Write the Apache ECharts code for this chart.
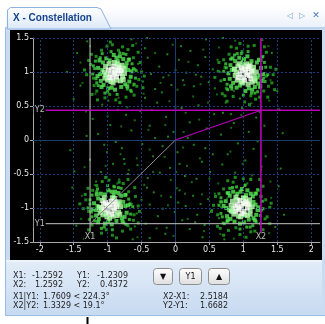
<!DOCTYPE html>
<html>
<head>
<meta charset="utf-8">
<script src="https://cdn.jsdelivr.net/npm/echarts@6/dist/echarts.min.js"></script>
<style>
html,body{margin:0;padding:0;background:#fff;}
#chart{width:325px;height:324px;}
</style>
</head>
<body>
<div id="chart"></div>
<script>
// Axis ticks
const xTicks = [-2, -1.5, -1, -0.5, 0, 0.5, 1, 1.5, 2];
const yTicks = [-1.5, -1, -0.5, 0, 0.5, 1, 1.5];

// Cursor positions: [X1, X2] and [Y1, Y2]
const cursorX = [-1.2592, 1.2592];
const cursorY = [-1.2309, 0.4372];

// Readout panel text
const readLeft = [
  ['X1:', '-1.2592', 'Y1:', '-1.2309'],
  ['X2:', '1.2592', 'Y2:', '0.4372']
];
const readPolar = [
  ['X1|Y1:', '1.7609 < 224.3°', 'X2-X1:', '2.5184'],
  ['X2|Y2:', '1.3329 < 19.1°', 'Y2-Y1:', '1.6682']
];

// Received symbols (I, Q) in hundredths, flat x,y pairs, grouped by density level
const coreWhite = [
  -90,99, -85,102, -94,104, -96,97, -87,93, -82,98, -91,108, -99,103, -88,103, -93,91, -83,106, -97,92, -80,102, -89,97,
  104,99, 98,102, 109,95, 100,92, 107,105, 95,97, 112,101, 102,88, 106,96, 97,106, 111,90, 93,92, 103,104, 108,108,
  -97,-99, -92,-94, -101,-96, -91,-104, -99,-106, -87,-98, -105,-102, -95,-90, -94,-109, -103,-92, -89,-91, -106,-94, -90,-100, -98,-95,
  97,-97, 93,-102, 102,-94, 91,-95, 101,-105, 106,-100, 88,-97, 95,-89, 98,-108, 104,-91, 89,-105, 107,-94, 94,-100, 100,-93
];
const corePale = [
  -78,93, -102,96, -86,112, -95,86, -76,105, -103,108, -81,87, -100,88, -84,109, -75,98, -105,100, -90,114, -92,84, -79,110, -98,112, -77,89, -104,91, -87,88,
  116,94, 90,100, 105,112, 99,84, 115,107, 92,109, 113,85, 91,88, 119,100, 88,95, 110,110, 97,86, 117,87, 94,112, 87,104, 107,82, 114,102, 101,109,
  -84,-106, -109,-100, -93,-85, -101,-113, -83,-91, -108,-89, -86,-111, -107,-110, -81,-98, -112,-99, -90,-86, -97,-115, -82,-109, -105,-85, -111,-107, -92,-112, -85,-94, -102,-108,
  110,-103, 85,-101, 100,-85, 93,-112, 109,-88, 84,-90, 106,-111, 86,-109, 113,-98, 82,-96, 103,-86, 96,-113, 110,-109, 89,-84, 82,-104, 102,-110, 109,-95, 91,-88
];
const midGreen = [
  -70,103, -111,97, -87,121, -94,77, -72,113, -107,114, -74,82, -106,81, -66,93, -114,106, -82,123, -99,76, -68,86, -110,87, -77,119, -102,120, -65,101, -115,94, -89,74, -91,125, -71,79, -112,117, -73,108, -108,103, -80,78, -97,117, -69,118, -109,78, -85,116, -104,95,
  124,95, 83,103, 101,119, 108,76, 120,114, 85,84, 122,83, 88,116, 126,106, 80,90, 94,121, 113,74, 127,87, 81,110, 117,78, 90,77, 129,97, 78,98, 103,72, 106,123, 123,118, 82,79, 86,105, 121,92, 95,80, 112,116, 84,120, 125,79, 99,115, 118,89,
  -74,-97, -117,-103, -94,-76, -99,-120, -80,-82, -114,-86, -79,-115, -113,-116, -72,-107, -120,-93, -89,-76, -104,-123, -75,-113, -117,-111, -84,-78, -110,-79, -70,-96, -122,-102, -94,-124, -99,-74, -78,-120, -116,-80, -77,-91, -115,-97, -87,-119, -104,-80, -74,-81, -114,-121, -91,-81, -109,-104,
  118,-95, 75,-100, 96,-76, 101,-121, 114,-83, 80,-82, 115,-115, 81,-116, 121,-103, 74,-90, 106,-74, 87,-120, 119,-110, 76,-112, 111,-79, 85,-76, 122,-99, 71,-97, 95,-123, 98,-72, 117,-118, 78,-78, 115,-91, 79,-103, 108,-117, 91,-79, 118,-79, 77,-118, 104,-81, 83,-106
];
const ringGreen = [
  -62,105, -117,90, -82,128, -100,71, -68,119, -111,121, -71,75, -114,80, -59,91, -121,109, -77,127, -104,69, -61,82, -116,84, -73,126, -108,127, -58,102, -122,97, -86,67, -95,130, -66,73, -118,116, -64,112, -119,105,
  130,91, 75,106, 97,127, 112,69, 124,77, 81,119, 126,117, 83,75, 133,107, 72,89, 91,127, 117,69, 131,114, 76,82, 87,125, 121,71, 136,96, 71,101, 100,66, 107,130, 128,122, 77,74, 74,112, 132,86,
  -67,-95, -124,-106, -90,-69, -105,-128, -73,-80, -116,-76, -76,-122, -119,-119, -66,-109, -126,-88, -84,-70, -109,-130, -68,-117, -123,-113, -80,-71, -115,-72, -63,-98, -129,-100, -93,-132, -100,-67, -73,-124, -123,-81, -69,-87, -126,-94,
  125,-104, 68,-91, 90,-69, 105,-128, 119,-120, 76,-78, 119,-78, 76,-120, 128,-90, 67,-108, 84,-70, 110,-128, 126,-83, 69,-113, 80,-71, 114,-126, 129,-101, 64,-96, 95,-131, 102,-67, 121,-73, 72,-123, 67,-85, 125,-111
];
const outerGreen = [
  -60,104, -121,91, -84,132, -97,67, -62,121, -117,123, -65,71, -116,72, -54,89, -125,111, -78,137, -104,62, -57,79, -120,80, -70,133, -109,132, -50,100, -131,96, -88,59, -93,140, -61,66, -124,126, -52,114, -128,117, -73,63, -101,138, -55,129, -123,67, -46,94, -134,103, -82,55, -96,144, -63,139, -115,59, -48,77,
  134,94, 73,107, 98,130, 111,65, 129,123, 75,76, 130,72, 79,126, 140,107, 67,87, 90,135, 118,60, 137,79, 71,118, 124,63, 85,64, 144,96, 63,101, 102,56, 107,138, 134,129, 73,65, 142,84, 64,114, 82,137, 116,139, 69,68, 136,63, 148,104, 58,92, 109,52, 95,142, 76,57, 131,137, 146,74,
  -67,-93, -128,-105, -91,-68, -102,-132, -69,-76, -122,-74, -70,-126, -123,-125, -61,-110, -132,-88, -83,-62, -109,-137, -62,-118, -127,-117, -77,-64, -116,-67, -55,-97, -136,-101, -93,-140, -98,-59, -66,-131, -129,-71, -59,-83, -133,-80, -78,-134, -108,-61, -60,-70, -128,-132, -53,-105, -141,-94, -87,-144, -103,-55, -70,-58, -120,-140, -55,-122,
  127,-103, 66,-91, 103,-66, 89,-129, 122,-74, 70,-122, 125,-123, 71,-72, 133,-88, 62,-110, 85,-62, 111,-135, 132,-116, 64,-79, 117,-134, 78,-133, 139,-99, 56,-96, 95,-139, 100,-57, 129,-68, 66,-130, 135,-113, 59,-83, 77,-60, 111,-58, 62,-127, 129,-132, 141,-93, 53,-105, 104,-143, 88,-55, 71,-140, 124,-58, 139,-123
];
const strayPoints = [
  -55,112, -48,86, -41,121, -36,97, -30,75, -24,108, -18,92, -12,126, -6,81, 0,103, 5,118, 11,88, 16,99, 22,131, 27,79, 33,110, 38,93, 44,122, 49,85, 55,104, -45,135, -20,70, 8,138, 30,96, 58,76, -62,80, 62,118,
  -57,-108, -50,-88, -44,-123, -38,-95, -32,-77, -26,-112, -19,-101, -13,-129, -7,-84, -1,-106, 4,-92, 10,-118, 15,-97, 21,-131, 26,-82, 32,-110, 37,-94, 43,-125, 48,-87, 54,-103, -42,-70, -15,-138, 6,-74, 29,-121, 58,-79, -60,-127, 64,-115,
  -108,52, -85,44, -122,31, -96,22, -73,37, -114,9, -88,-3, -101,-18, -79,-12, -126,-29, -92,-35, -110,-47, -70,-50, -83,-58, -117,-61, -99,58, -65,14, -131,6, -76,-28, -105,-7,
  74,55, 98,47, 119,33, 86,25, 108,12, 131,21, 92,-5, 115,-13, 77,-21, 103,-30, 126,-44, 88,-48, 111,-57, 69,-36, 121,-2, 95,61, 67,8, 133,-24, 82,38, 106,-64,
  -52,43, -38,21, -27,55, -14,34, -3,12, 9,47, 21,26, 34,51, 46,17, 57,38, -49,-6, -33,-24, -19,-9, -8,-41, 3,-18, 14,-53, 27,-7, 39,-32, 51,-47, -56,-37, -41,-56, -23,-48, -11,5, 18,3, 44,-12, -30,3, 6,-35, 31,-57, 55,-21, -45,62,
  -145,128, -140,80, -65,148, -130,145, -150,60, -42,150, 142,128, 150,72, 70,150, 128,147, 153,45, 45,148, -146,-126, -152,-70, -63,-146, -135,-145, -149,-46, -38,-144, 147,-128, 152,-68, 72,-146, 130,-144, 155,-42, 40,-143, -160,100, 160,-110, -75,-35, 70,40, -155,-15, 158,10
];
const strayFaint = [
  -132,42, -118,68, -100,35, -84,62, -71,48, -60,29, -47,68, -35,44, -22,84, -9,57, 3,74, 15,40, 26,64, 37,82, 48,55, 61,67, 73,88, 86,72, 97,37, 112,54, 124,41, 138,58, -140,114, -58,142, -30,128, -4,140, 19,115, 41,133, 64,136, 88,146, 137,138, -126,138, -10,95, 13,81, -66,92, 66,100, -40,15, -15,22, 12,12, 35,30, -137,84, 140,88, 0,48, -80,20, 82,18,
  -134,-40, -119,-66, -103,-38, -86,-64, -69,-44, -57,-27, -46,-66, -33,-47, -21,-82, -7,-59, 2,-71, 17,-38, 24,-62, 39,-80, 50,-57, 63,-64, 76,-86, 84,-70, 99,-35, 113,-52, 127,-39, 140,-61, -139,-116, -56,-143, -28,-130, -3,-141, 18,-116, 42,-134, 66,-138, 86,-145, 138,-137, -124,-139, -11,-96, 14,-79, -64,-94, 67,-99, -38,-14, -16,-25, 11,-11, 36,-27, -138,-82, 141,-85, 1,-47, -81,-21, 81,-17
];

function toPoints(flat) {
  const out = [];
  for (let i = 0; i < flat.length; i += 2) out.push([flat[i] / 100, flat[i + 1] / 100]);
  return out;
}

const FONT = '"DejaVu Sans", sans-serif';
const axisGray = '#a9a9a9';
const magenta = '#b800b8';
const cursorGray = '#c4c4c4';

function cloud(name, flat, color, size, z) {
  return {
    name, type: 'scatter', data: toPoints(flat), symbol: 'rect', symbolSize: size,
    itemStyle: { color }, silent: true, z
  };
}

function segment(points, color, width, z) {
  return {
    type: 'line', data: points, symbol: 'none', silent: true, z,
    lineStyle: { color, width }, animation: false
  };
}

// Background grid lines (dotted every 0.5, solid through the origin)
const gridLines = {
  type: 'scatter', data: [], silent: true, z: 1,
  markLine: {
    silent: true, symbol: 'none', label: { show: false }, animation: false,
    lineStyle: { color: '#1c3b7a', type: [2, 2], width: 1 },
    data: xTicks.filter(v => v !== 0).map(v => ({ xAxis: v }))
      .concat(yTicks.filter(v => v !== 0 && v !== -1.5).map(v => ({ yAxis: v })))
      .concat([
        { xAxis: 0, lineStyle: { type: 'solid', color: '#1b3c70' } },
        { yAxis: 0, lineStyle: { type: 'solid', color: '#1b3c70' } }
      ])
  }
};

const tagStyle = {
  show: true, position: 'inside', color: '#e4e4e4', fontSize: 8, fontFamily: FONT,
  backgroundColor: '#000', padding: [0, 1],
  formatter: p => p.value[2]
};
const cursorTags = {
  type: 'scatter', silent: true, z: 12, symbolSize: 1,
  itemStyle: { color: 'rgba(0,0,0,0)' },
  label: tagStyle,
  data: [
    [cursorX[0], -1.425, 'X1'], [cursorX[1], -1.425, 'X2'],
    [-2.0, cursorY[0], 'Y1'], [-2.0, cursorY[1], 'Y2']
  ]
};

const vBottom = -1.36, vTop = 1.5, hLeft = -1.92, hRight = 2.13;

const series = [
  gridLines,
  cloud('faint', strayFaint, '#1a801a', 2, 2),
  cloud('stray', strayPoints, '#24a024', 2, 2),
  cloud('outer', outerGreen, '#25aa25', 3, 3),
  cloud('ring', ringGreen, '#3fce3f', 3, 3),
  cloud('mid', midGreen, '#55e655', 4, 4),
  cloud('pale', corePale, '#b0ffa8', 5, 5),
  cloud('core', coreWhite, '#f6fff4', 5, 6),
  // polar vectors from origin
  segment([[0, 0], [cursorX[0], cursorY[0]]], '#8c8c8c', 1, 8),
  segment([[0, 0], [cursorX[1], cursorY[1]]], magenta, 1.2, 8),
  // cursors
  segment([[cursorX[0], vBottom], [cursorX[0], vTop]], cursorGray, 1, 9),
  segment([[hLeft, cursorY[0]], [hRight, cursorY[0]]], cursorGray, 1, 9),
  segment([[cursorX[1], vBottom], [cursorX[1], vTop]], magenta, 1.6, 9),
  segment([[hLeft, cursorY[1]], [hRight, cursorY[1]]], magenta, 1.6, 9),
  cursorTags
];

// Window chrome drawn around the plot
function vgrad(c0, c1) {
  return new echarts.graphic.LinearGradient(0, 0, 0, 1, [{ offset: 0, color: c0 }, { offset: 1, color: c1 }]);
}
const graphic = [
  { type: 'rect', z: -30, shape: { x: 5.5, y: 27.5, width: 322, height: 288 }, style: { fill: '#c9dcf2', stroke: '#99bbe6', lineWidth: 1 } },
  { type: 'rect', z: -29, shape: { x: 6, y: 6, width: 319, height: 22 }, style: { fill: vgrad('#ffffff', '#eaf1fa') } },
  { type: 'rect', z: -29, shape: { x: 6, y: 27, width: 319, height: 2 }, style: { fill: '#bcd3ee' } },
  { type: 'polygon', z: -28, shape: { points: [[7.5, 29], [7.5, 10], [10.5, 7.5], [97, 7.5], [101, 9], [111, 29]] },
    style: { fill: vgrad('#ffffff', '#dbe8f8'), stroke: '#8fb1de', lineWidth: 1 } },
  { type: 'text', z: -27, style: { text: 'X - Constellation', x: 13, y: 18, verticalAlign: 'middle',
    font: 'bold 10px "Liberation Sans", sans-serif', fill: '#15428b' } },
  { type: 'text', z: -27, style: { text: '\u25C1', x: 290, y: 16, align: 'center', verticalAlign: 'middle', font: '8px ' + FONT, fill: '#7ea3d3' } },
  { type: 'text', z: -27, style: { text: '\u25B7', x: 302, y: 16, align: 'center', verticalAlign: 'middle', font: '8px ' + FONT, fill: '#7ea3d3' } },
  { type: 'text', z: -27, style: { text: '\u2715', x: 316, y: 16, align: 'center', verticalAlign: 'middle', font: 'bold 9px ' + FONT, fill: '#4677bd' } },
  // plot panel
  { type: 'rect', z: -26, shape: { x: 10, y: 30, width: 312, height: 230 }, style: { fill: '#000000' } },
  // readout panel
  { type: 'rect', z: -26, shape: { x: 6, y: 260, width: 316, height: 2 }, style: { fill: '#eef4fb' } },
  { type: 'rect', z: -26, shape: { x: 6, y: 262, width: 316, height: 53 }, style: { fill: vgrad('#e2ecf8', '#c7daf1') } },
  // mouse caret below the panel
  { type: 'rect', z: -20, shape: { x: 86.5, y: 317, width: 2, height: 7 }, style: { fill: '#000' } }
];

// step buttons
const buttons = [
  { x: 153, w: 19, label: '\u25BC' },
  { x: 179, w: 22, label: 'Y1' },
  { x: 208, w: 21, label: '\u25B2' }
];
buttons.forEach(b => {
  graphic.push({ type: 'rect', z: -25, shape: { x: b.x + 0.5, y: 268.5, width: b.w, height: 16, r: 3 },
    style: { fill: vgrad('#ffffff', '#dedede'), stroke: '#8e8e8e', lineWidth: 1 } });
  graphic.push({ type: 'text', z: -24, style: { text: b.label, x: b.x + 0.5 + b.w / 2, y: 277, align: 'center', verticalAlign: 'middle',
    font: '8px ' + FONT, fill: '#111' } });
});

// readout text
const txt = (s, x, y, align) => ({ type: 'text', z: -24,
  style: { text: s, x, y, align: align || 'left', verticalAlign: 'middle', font: '8px ' + FONT, fill: '#1e1e1e' } });
readLeft.forEach((r, i) => {
  const y = 276 + i * 8.5;
  graphic.push(txt(r[0], 13, y), txt(r[1], 63, y, 'right'), txt(r[2], 77, y), txt(r[3], 128, y, 'right'));
});
readPolar.forEach((r, i) => {
  const y = 297 + i * 8.5;
  graphic.push(txt(r[0], 13, y), txt(r[1], 43, y), txt(r[2], 163, y), txt(r[3], 200, y));
});

const chart = echarts.init(document.getElementById('chart'), null, { renderer: 'canvas' });
chart.setOption({
  animation: false,
  backgroundColor: '#ffffff',
  grid: { left: 33, top: 38, width: 287, height: 204, containLabel: false },
  xAxis: {
    type: 'value', min: -2.1, max: 2.13,
    axisLine: { show: true, onZero: false, lineStyle: { color: axisGray } },
    axisTick: { show: true, length: 3, customValues: xTicks, lineStyle: { color: axisGray } },
    axisLabel: { customValues: xTicks, color: '#e6e6e6', fontSize: 8, fontFamily: FONT, margin: 4 },
    splitLine: { show: false }
  },
  yAxis: {
    type: 'value', min: -1.5, max: 1.5,
    axisLine: { show: true, onZero: false, lineStyle: { color: axisGray } },
    axisTick: { show: true, length: 3, customValues: yTicks, lineStyle: { color: axisGray } },
    axisLabel: { customValues: yTicks, color: '#e6e6e6', fontSize: 8, fontFamily: FONT, margin: 4 },
    splitLine: { show: false }
  },
  graphic,
  series
});
</script>
</body>
</html>
